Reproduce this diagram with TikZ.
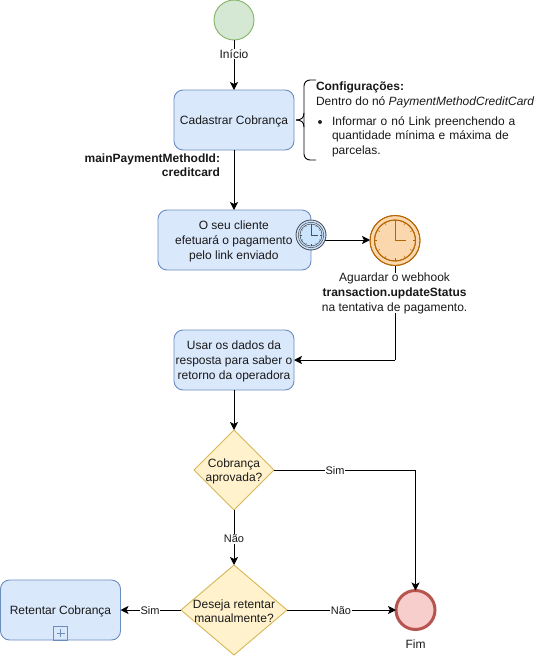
\documentclass[tikz,border=0pt]{standalone}
\usepackage{fontspec}
\setmainfont{Liberation Sans}
\usetikzlibrary{arrows.meta,shapes.geometric}
\definecolor{bfill}{HTML}{DAE8FC}\definecolor{bline}{HTML}{6C8EBF}
\definecolor{gfill}{HTML}{D5E8D4}\definecolor{gline}{HTML}{82B366}
\definecolor{yfill}{HTML}{FFF2CC}\definecolor{yline}{HTML}{D6B656}
\definecolor{rfill}{HTML}{F8CECC}\definecolor{rline}{HTML}{B85450}
\definecolor{ofill}{HTML}{FAD7AC}\definecolor{oline}{HTML}{B46504}
\definecolor{cfill}{HTML}{CCE5FF}\definecolor{cline}{HTML}{4A4E55}
% x, y, outer r, ring r, face r, options, minute hand, hour hand
\newcommand{\clockface}[8]{%
  \fill[#6] (#1,#2) circle (#3);
  \draw[#6,fill=none] (#1,#2) circle (#3);
  \draw[#6,fill=none] (#1,#2) circle (#4);
  \draw[#6,fill=none] (#1,#2) circle (#5);
  \foreach \a in {0,30,...,330}
    \draw[#6,fill=none,line width=.4pt] ({#1+#5*cos(\a)},{#2+#5*sin(\a)}) -- ({#1+#5*.86*cos(\a)},{#2+#5*.86*sin(\a)});
  \draw[#6,fill=none] (#1,{#2-#7}) -- (#1,#2) -- ({#1+#8},#2);
}
\tikzset{
  x=1pt,y=-1pt,
  every node/.style={font=\fontsize{12}{14.6}\selectfont,text=black!90,inner sep=0pt,outer sep=0pt},
  task/.style={draw=bline,fill=bfill,rounded corners=9pt,line width=.9pt,minimum height=60pt},
  inbox/.style={align=center,yshift=-1.3pt},
  startev/.style={circle,draw=gline,fill=gfill,line width=.9pt,minimum size=40pt},
  endev/.style={circle,draw=rline,fill=rfill,line width=3pt,minimum size=39pt},
  gate/.style={diamond,draw=yline,fill=yfill,line width=.9pt},
  lbl/.style={fill=white,inner sep=1pt,align=center},
  sml/.style={font=\fontsize{11}{13}\selectfont},
  flow/.style={draw=black,line width=.9pt,-{Stealth[length=8pt,width=8pt,inset=2pt]}},
  plain/.style={draw=black,line width=.9pt}
}
\begin{document}
\begin{tikzpicture}
\useasboundingbox (0,0) rectangle (555,656);
\node[startev] (ini) at (234,20) {};
\node[task,minimum width=120pt] (cad) at (234,120) {};
\node[inbox] (tcad) at (cad) {Cadastrar Cobrança};
\node[task,minimum width=153pt] (cli) at (234.5,240) {};
\node[inbox,xshift=-.7pt] (tcli) at (cli) {O seu cliente\\efetuará o pagamento\\pelo link enviado};
\coordinate (wev) at (395,240);
\node[circle,minimum size=50pt] (wait) at (wev) {};
\node[task,minimum width=120pt] (usa) at (234,360) {};
\node[inbox] (tusa) at (usa) {Usar os dados da\\resposta para saber o\\retorno da operadora};
\node[gate,aspect=1,minimum width=80pt,minimum height=80pt] (apr) at (234,470) {};
\node[gate,aspect=1.18,minimum width=106pt,minimum height=90pt] (des) at (234,610) {};
\node[task,minimum width=120pt] (ret) at (60.5,610) {};
\node[inbox] (tret) at (ret) {Retentar Cobrança};
\node[endev] (fim) at (415.5,610) {};
\node[circle,minimum size=30pt] (tim) at (311,235) {};
\coordinate (cor) at (395,360);
\coordinate (cor2) at (415.5,470);
% connectors
\draw[flow] (ini) -- (cad);
\draw[flow] (cad) -- (cad |- cli.north);
\draw[flow] (tim.center |- wait.west) -- (wait.west);
\draw[plain] (wait.south) -- (cor);
\draw[flow] (cor) -- (usa.east);
\draw[flow] (usa) -- (apr);
\draw[plain] (apr.east) -- (cor2);
\draw[flow] (cor2) -- (fim.north);
\draw[flow] (apr) -- (des);
\draw[flow] (des) -- (ret);
\draw[flow] (des) -- (fim);
% labels on connectors
\node[lbl] (lini) at (234,54) {Início};
\node[lbl,sml] (lsim1) at (335,470.5) {Sim};
\node[lbl,sml] (lnao1) at (234,538.5) {Não};
\node[lbl,sml] (lsim2) at (150,610.5) {Sim};
\node[lbl,sml] (lnao2) at (341,610.5) {Não};
\node[lbl,inner sep=0pt] (lwait) at (394.6,293.3) {Aguardar o webhook\\\textbf{transaction.updateStatus}\\na tentativa de pagamento.};
\node[align=right,anchor=north east] (lmain) at (220,153.5) {\textbf{mainPaymentMethodId:}\\\textbf{creditcard}};
\node[align=center] (tapr) at (234,471.3) {Cobrança\\aprovada?};
\node[align=center] (tdes) at (234,611.3) {Deseja retentar\\manualmente?};
\node[anchor=south] (lfim) at (415.5,648.5) {Fim};
% expand marker
\draw[bline,line width=.8pt] (53.5,640) rectangle (67.5,626);
\draw[bline,line width=.6pt] (56.5,633) -- (64.5,633) (60.5,629) -- (60.5,637);
% clocks
\clockface{395}{240.5}{25}{20.5}{20.5}{draw=oline,fill=ofill,line width=.9pt}{18.5}{11}
\clockface{311}{235}{15}{12.8}{11}{draw=cline,fill=cfill,line width=.55pt}{10.5}{7}
% brace
\coordinate (b1) at (316,80);
\coordinate (b2) at (316,160);
\draw[draw=black,line width=.9pt,rounded corners=6pt] (b1) -- (304,80) -- (304,120);
\draw[draw=black,line width=.9pt,rounded corners=6pt] (b2) -- (304,160) -- (304,120);
\draw[draw=black,line width=.9pt] (296,120) .. controls (301,120) and (304,118) .. (304,113);
\draw[draw=black,line width=.9pt] (296,120) .. controls (301,120) and (304,122) .. (304,127);
% annotation
\node[anchor=north west,align=left] (nota) at (316,82) {\textbf{Configurações:}\\Dentro do nó \textit{PaymentMethodCreditCard}};
\node[anchor=north west,align=left,text width=190pt] (item) at (332,116.5) {Informar o nó Link preenchendo a\\quantidade mínima e máxima de\\parcelas.};
\fill[black!85] (320,122) circle (2);
\end{tikzpicture}
\end{document}
